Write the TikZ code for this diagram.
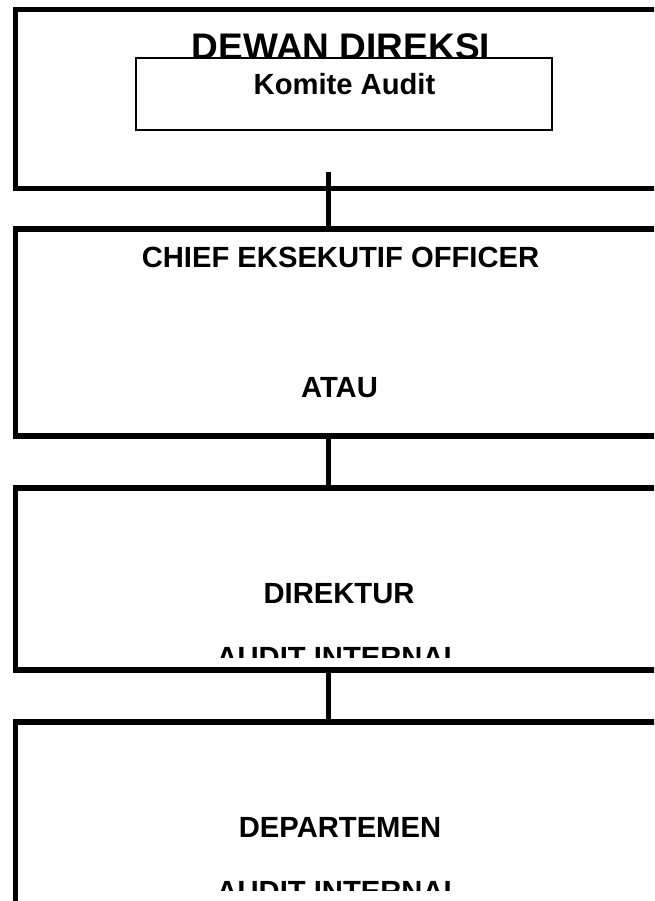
\documentclass[tikz,border=0pt]{standalone}
\usepackage{fontspec}
\setmainfont{Liberation Sans}
\begin{document}
\begin{tikzpicture}[x=1pt,y=-1pt,
  bigbox/.style={draw=black,line width=5.5pt,minimum width=649pt,inner sep=0pt,outer sep=0pt},
  smallbox/.style={draw=black,fill=white,line width=1.5pt,minimum width=416pt,minimum height=72pt,inner sep=0pt,outer sep=0pt},
  lbl/.style={inner sep=0pt,anchor=base,font=\fontsize{29.2}{34}\selectfont\bfseries},
  title/.style={inner sep=0pt,anchor=base,font=\fontsize{37}{44}\selectfont\bfseries},
  link/.style={draw=black,line width=5pt}]
\useasboundingbox (0,0) rectangle (654,901);
\clip (0,0) rectangle (654,901);
% boxes
\node[bigbox,minimum height=179pt] (b1) at (340,99) {};
\node[bigbox,minimum height=207pt] (b2) at (340,332.5) {};
\node[bigbox,minimum height=182pt] (b3) at (340,579) {};
\node[bigbox,minimum height=280pt] (b4) at (340,862) {};
% top box contents
\node[title] (dewan) at (341,59.5) {DEWAN DIREKSI};
\node[smallbox] (komite) at (344,94) {};
\node[lbl] (komitetxt) at (344.5,95) {Komite Audit};
% second box
\node[lbl] (ceo) at (340.5,267) {CHIEF EKSEKUTIF OFFICER};
\node[lbl] (atau) at (339.5,397) {ATAU};
% third box
\node[lbl] (dir) at (339,603) {DIREKTUR};
\begin{scope}
\clip (15,488) rectangle (665,657);
\node[lbl] (dirai) at (339,667.5) {AUDIT INTERNAL};
\end{scope}
% fourth box
\node[lbl] (dep) at (340,837) {DEPARTEMEN};
\begin{scope}
\clip (15,722) rectangle (665,890);
\node[lbl] (depai) at (339,901) {AUDIT INTERNAL};
\end{scope}
% connectors
\coordinate (k1) at (328,172);
\draw[link] (k1) -- (k1 |- b2.north);
\draw[link] ([xshift=-12pt]b2.south) -- ([xshift=-12pt]b3.north);
\draw[link] ([xshift=-12pt]b3.south) -- ([xshift=-12pt]b4.north);
\end{tikzpicture}
\end{document}
